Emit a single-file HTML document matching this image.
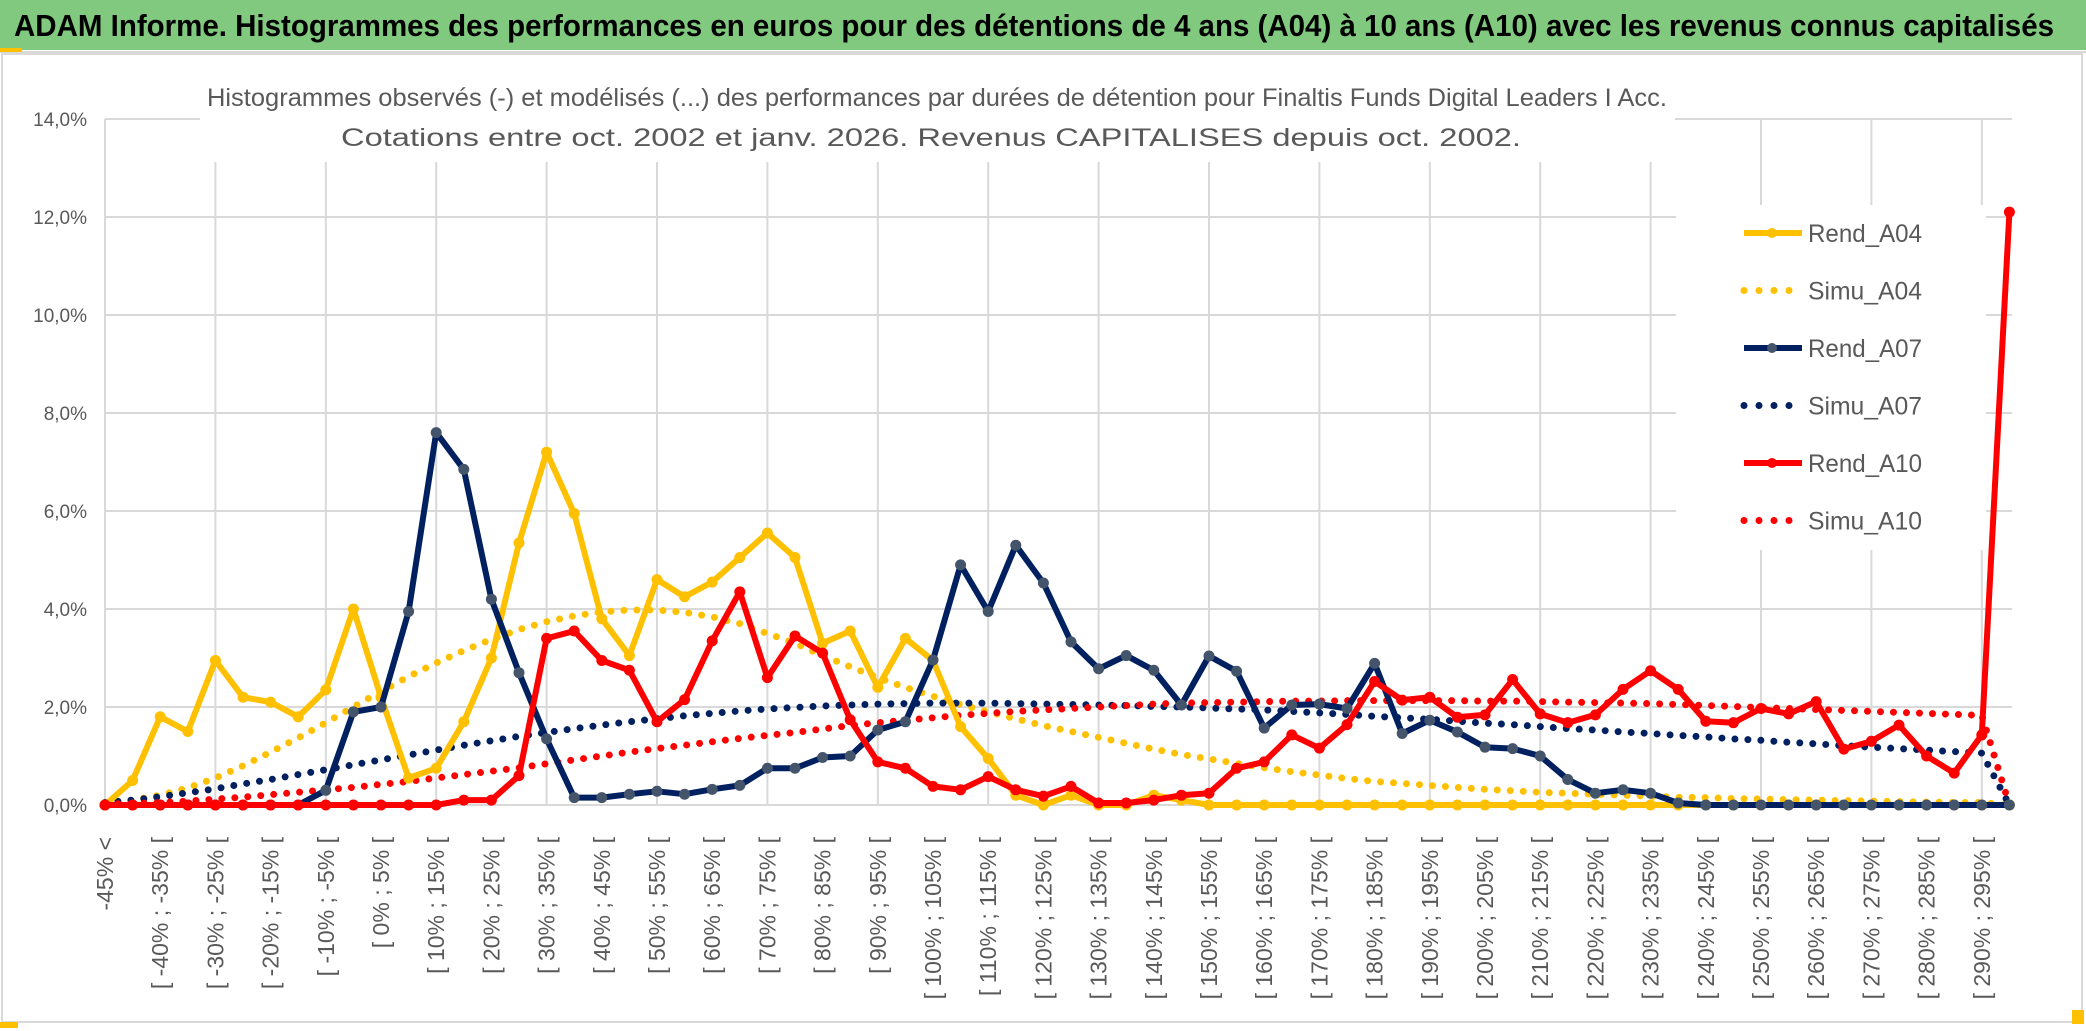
<!DOCTYPE html>
<html><head><meta charset="utf-8"><style>
html,body{margin:0;padding:0;background:#fff;}
svg{display:block;font-family:"Liberation Sans",sans-serif;}
</style></head><body>
<svg id="chart" width="2086" height="1031" viewBox="0 0 2086 1031" xmlns="http://www.w3.org/2000/svg">
<rect x="0" y="0" width="2086" height="1031" fill="#fff"/>
<rect x="0" y="0" width="2086" height="50" fill="#80C97E"/>
<line x1="0" y1="52" x2="2086" y2="52" stroke="#d9d9d9" stroke-width="2"/>
<rect x="0" y="48" width="22" height="4" fill="#FFC000"/>
<text x="14" y="36" font-size="31" font-weight="bold" fill="#000" textLength="2040" lengthAdjust="spacingAndGlyphs">ADAM Informe. Histogrammes des performances en euros pour des détentions de 4 ans (A04) à 10 ans (A10) avec les revenus connus capitalisés</text>
<rect x="2" y="54" width="2080" height="968" fill="none" stroke="#d9d9d9" stroke-width="2"/>
<rect x="2072" y="1010" width="12" height="14" fill="#FFC000"/>
<rect x="0" y="1022" width="18" height="6" fill="#FFC000"/>
<g id="grid"></g>
<rect x="200" y="70" width="1475" height="92" fill="#fff"/>
<text x="937" y="106" font-size="25" fill="#595959" text-anchor="middle" textLength="1460" lengthAdjust="spacingAndGlyphs">Histogrammes observés (-) et modélisés (...) des performances par durées de détention pour Finaltis Funds Digital Leaders I Acc.</text>
<text x="931" y="146" font-size="25" fill="#595959" text-anchor="middle" textLength="1180" lengthAdjust="spacingAndGlyphs">Cotations entre oct. 2002 et janv. 2026. Revenus CAPITALISES depuis oct. 2002.</text>
<g id="yaxis"></g>
<g id="xaxis"></g>
<g id="series"></g>
<g id="legend"></g>
</svg>
<script>
const categories = ["-45% <","[ -45% ; -40% [","[ -40% ; -35% [","[ -35% ; -30% [","[ -30% ; -25% [","[ -25% ; -20% [","[ -20% ; -15% [","[ -15% ; -10% [","[ -10% ; -5% [","[ -5% ; 0% [",
"[ 0% ; 5% [","[ 5% ; 10% [","[ 10% ; 15% [","[ 15% ; 20% [","[ 20% ; 25% [","[ 25% ; 30% [","[ 30% ; 35% [","[ 35% ; 40% [","[ 40% ; 45% [","[ 45% ; 50% [",
"[ 50% ; 55% [","[ 55% ; 60% [","[ 60% ; 65% [","[ 65% ; 70% [","[ 70% ; 75% [","[ 75% ; 80% [","[ 80% ; 85% [","[ 85% ; 90% [","[ 90% ; 95% [","[ 95% ; 100% [",
"[ 100% ; 105% [","[ 105% ; 110% [","[ 110% ; 115% [","[ 115% ; 120% [","[ 120% ; 125% [","[ 125% ; 130% [","[ 130% ; 135% [","[ 135% ; 140% [","[ 140% ; 145% [","[ 145% ; 150% [",
"[ 150% ; 155% [","[ 155% ; 160% [","[ 160% ; 165% [","[ 165% ; 170% [","[ 170% ; 175% [","[ 175% ; 180% [","[ 180% ; 185% [","[ 185% ; 190% [","[ 190% ; 195% [","[ 195% ; 200% [",
"[ 200% ; 205% [","[ 205% ; 210% [","[ 210% ; 215% [","[ 215% ; 220% [","[ 220% ; 225% [","[ 225% ; 230% [","[ 230% ; 235% [","[ 235% ; 240% [","[ 240% ; 245% [","[ 245% ; 250% [",
"[ 250% ; 255% [","[ 255% ; 260% [","[ 260% ; 265% [","[ 265% ; 270% [","[ 270% ; 275% [","[ 275% ; 280% [","[ 280% ; 285% [","[ 285% ; 290% [","[ 290% ; 295% [","[ 295% ; 300% ["];
const yTicks = [0,2,4,6,8,10,12,14];
const yTickLabels = ["0,0%","2,0%","4,0%","6,0%","8,0%","10,0%","12,0%","14,0%"];
const rendA04 = [0,0.5,1.8,1.5,2.95,2.2,2.1,1.8,2.35,4.0,2.2,0.55,0.75,1.7,3.0,5.35,7.2,5.95,3.8,3.05,4.6,4.25,4.55,5.05,5.55,5.05,3.3,3.55,2.4,3.4,2.95,1.6,0.95,0.2,0,0.2,0,0,0.2,0.1,0,0,0,0,0,0,0,0,0,0,0,0,0,0,0,0,0,0,0,0,0,0,0,0,0,0,0,0,0,0];
const simuA04 = [0.05,0.1,0.2,0.35,0.55,0.8,1.08,1.37,1.68,2.0,2.32,2.62,2.9,3.15,3.38,3.58,3.74,3.86,3.94,3.98,3.98,3.93,3.84,3.7,3.5,3.3,3.05,2.82,2.6,2.4,2.22,2.05,1.9,1.76,1.62,1.5,1.38,1.26,1.14,1.03,0.94,0.85,0.76,0.68,0.61,0.54,0.48,0.44,0.4,0.36,0.32,0.29,0.26,0.24,0.22,0.2,0.18,0.16,0.15,0.13,0.12,0.11,0.1,0.09,0.08,0.07,0.06,0.05,0.05,0];
const rendA07 = [0,0,0,0,0,0,0,0,0.3,1.9,2.0,3.95,7.6,6.85,4.2,2.7,1.35,0.15,0.15,0.22,0.28,0.22,0.32,0.4,0.75,0.75,0.97,1.0,1.53,1.7,2.96,4.9,3.95,5.3,4.53,3.33,2.78,3.05,2.75,2.04,3.04,2.73,1.57,2.04,2.06,1.97,2.89,1.46,1.73,1.49,1.18,1.15,1.0,0.52,0.24,0.31,0.24,0.04,0,0,0,0,0,0,0,0,0,0,0,0];
const simuA07 = [0.05,0.1,0.17,0.25,0.33,0.43,0.52,0.62,0.72,0.82,0.92,1.02,1.12,1.22,1.31,1.4,1.48,1.56,1.63,1.7,1.76,1.82,1.87,1.92,1.96,1.99,2.02,2.04,2.06,2.07,2.08,2.08,2.08,2.07,2.06,2.05,2.04,2.03,2.01,2.0,1.98,1.96,1.94,1.91,1.88,1.85,1.81,1.78,1.75,1.71,1.67,1.64,1.6,1.56,1.53,1.49,1.46,1.42,1.39,1.35,1.32,1.28,1.25,1.21,1.18,1.15,1.12,1.09,1.06,0];
const rendA10 = [0,0,0,0,0,0,0,0,0,0,0,0,0,0.1,0.1,0.6,3.4,3.55,2.95,2.75,1.7,2.15,3.35,4.35,2.6,3.45,3.1,1.74,0.88,0.75,0.38,0.31,0.58,0.31,0.18,0.38,0.04,0.04,0.1,0.2,0.24,0.75,0.88,1.43,1.16,1.64,2.52,2.14,2.2,1.79,1.84,2.56,1.86,1.68,1.84,2.36,2.74,2.36,1.71,1.68,1.97,1.86,2.11,1.14,1.3,1.63,1.0,0.65,1.43,12.1];
const simuA10 = [0.02,0.03,0.05,0.08,0.12,0.16,0.21,0.26,0.31,0.36,0.42,0.48,0.55,0.62,0.69,0.76,0.84,0.92,1.0,1.08,1.15,1.22,1.29,1.36,1.42,1.48,1.55,1.62,1.68,1.73,1.78,1.83,1.87,1.91,1.94,1.97,2.0,2.03,2.06,2.08,2.09,2.1,2.11,2.12,2.12,2.13,2.13,2.13,2.13,2.13,2.12,2.12,2.11,2.1,2.09,2.08,2.07,2.05,2.03,2.01,1.99,1.97,1.95,1.93,1.91,1.89,1.87,1.85,1.83,0];
const legendLabels = ["Rend_A04","Simu_A04","Rend_A07","Simu_A07","Rend_A10","Simu_A10"];

const NS = "http://www.w3.org/2000/svg";
const X0 = 105, DX = 27.6, Y0 = 805, PPU = 49;
function xs(i){ return X0 + DX*i; }
function ys(v){ return Y0 - v*PPU; }
function mk(tag, attrs, parent){ const e=document.createElementNS(NS,tag); for(const k in attrs) e.setAttribute(k,attrs[k]); parent.appendChild(e); return e; }

const grid = document.getElementById('grid');
const gridTop = ys(14), gridRight = 2012;
for (let k=0; k*4 < categories.length; k++){
  const l = mk('line',{x1:xs(k*4),x2:xs(k*4),y1:gridTop,y2:Y0,stroke:'#d9d9d9','stroke-width':2},grid);
  
  
}
const yax = document.getElementById('yaxis');
yTicks.forEach((t,i)=>{
  const l = mk('line',{x1:X0,x2:gridRight,y1:ys(t),y2:ys(t),stroke:'#d9d9d9','stroke-width':2},grid);
  
  
  const tx = mk('text',{x:87,y:ys(t)+7,'font-size':19,fill:'#595959','text-anchor':'end'},yax);
  tx.textContent = yTickLabels[i];
  
  
});
const xax = document.getElementById('xaxis');
categories.forEach((c,i)=>{
  if (i%2) return;
  const tx = mk('text',{transform:`translate(${xs(i)+8},837) rotate(-90)`,'font-size':23,fill:'#595959','text-anchor':'end'},xax);
  tx.textContent = c;
  
  
});

const ser = document.getElementById('series');
function pts(arr){ return arr.map((v,i)=>xs(i).toFixed(1)+','+ys(v).toFixed(1)).join(' '); }
function dotted(arr,color,name){
  const p = mk('polyline',{points:pts(arr),fill:'none',stroke:color,'stroke-width':7,'stroke-linecap':'round','stroke-dasharray':'0 13'},ser);
  
  
}
function solid(arr,color,mcolor,name){
  const g = mk('g',{},ser);
  
  
  mk('polyline',{points:pts(arr),fill:'none',stroke:color,'stroke-width':6,'stroke-linejoin':'round'},g);
  arr.forEach((v,i)=>{
    const c = mk('circle',{cx:xs(i),cy:ys(v),r:5.5,fill:mcolor},g);
    
    
  });
}
dotted(simuA04,'#FFC000','simu-a04-line');
dotted(simuA07,'#002060','simu-a07-line');
dotted(simuA10,'#FF0000','simu-a10-line');
solid(rendA04,'#FFC000','#FFC000','rend-a04-line');
solid(rendA07,'#002060','#44546A','rend-a07-line');
solid(rendA10,'#FF0000','#FF0000','rend-a10-line');

const leg = document.getElementById('legend');
mk('rect',{x:1676,y:205,width:310,height:345,fill:'#fff'},leg);
const legColors = ['#FFC000','#FFC000','#002060','#002060','#FF0000','#FF0000'];
const legMarker = ['#FFC000','','#44546A','','#FF0000',''];
legendLabels.forEach((lab,i)=>{
  const y = 233 + i*57.5;
  const g = mk('g',{},leg);
  
  
  if (i%2===0){
    mk('line',{x1:1744,x2:1802,y1:y,y2:y,stroke:legColors[i],'stroke-width':6},g);
    mk('circle',{cx:1772,cy:y,r:5,fill:legMarker[i]},g);
  } else {
    mk('line',{x1:1744,x2:1796,y1:y,y2:y,stroke:legColors[i],'stroke-width':7,'stroke-linecap':'round','stroke-dasharray':'0 15'},g);
  }
  const t = mk('text',{x:1808,y:y+9,'font-size':25,fill:'#595959',textLength:114,lengthAdjust:'spacingAndGlyphs'},g);
  t.textContent = lab;
});
</script>
</body></html>
